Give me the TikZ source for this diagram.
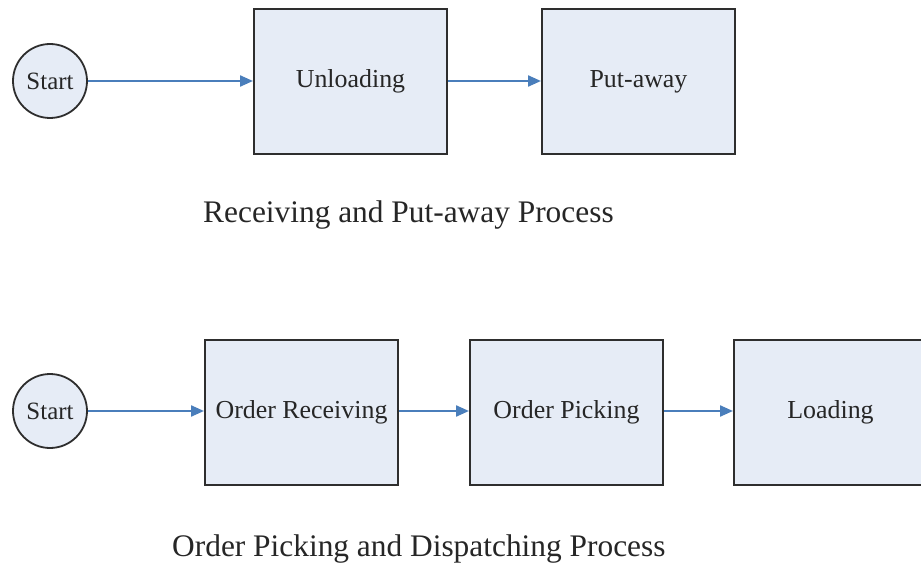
\documentclass[tikz,border=0pt]{standalone}
\usepackage{fontspec}
\setmainfont{Liberation Serif}
\usetikzlibrary{arrows.meta}
\definecolor{boxfill}{HTML}{E6ECF6}
\definecolor{boxline}{HTML}{2E2E2E}
\definecolor{arrowblue}{HTML}{4A7EBB}
\begin{document}
\begin{tikzpicture}[x=1bp,y=-1bp,
  procbox/.style={draw=boxline, fill=boxfill, line width=2bp, minimum width=193bp, minimum height=145bp, inner sep=0pt, font=\fontsize{26}{30}\selectfont, text=black!85},
  startnode/.style={circle, draw=boxline, fill=boxfill, line width=1.8bp, minimum size=74bp, inner sep=0pt, font=\fontsize{25}{30}\selectfont, text=black!85},
  flow/.style={draw=arrowblue, line width=2.2bp, -{Triangle[length=13bp,width=11bp]}},
  captiontext/.style={font=\fontsize{31.5}{36}\selectfont, inner sep=0pt, text=black!85}]
\fill[white] (0,0) rectangle (921,566);
\useasboundingbox (0,0) rectangle (921,566);

% top row
\node[startnode] (s1) at (50,81) {Start};
\node[procbox] (unl) at (350.5,81.5) {Unloading};
\node[procbox] (put) at (638.5,81.5) {Put-away};
\draw[flow] (s1) -- (s1 -| unl.west);
\draw[flow] (unl.east |- s1) -- (put.west |- s1);
\node[captiontext, anchor=base west] (cap1) at (203,223) {Receiving and Put-away Process};

% bottom row
\node[startnode] (s2) at (50,411) {Start};
\node[procbox] (ord) at (301.5,412) {Order Receiving};
\node[procbox] (pick) at (566.5,412) {Order Picking};
\node[procbox] (load) at (830.5,412) {Loading};
\draw[flow] (s2) -- (s2 -| ord.west);
\draw[flow] (ord.east |- s2) -- (pick.west |- s2);
\draw[flow] (pick.east |- s2) -- (load.west |- s2);
\node[captiontext, anchor=base west] (cap2) at (172,556) {Order Picking and Dispatching Process};
\end{tikzpicture}
\end{document}
